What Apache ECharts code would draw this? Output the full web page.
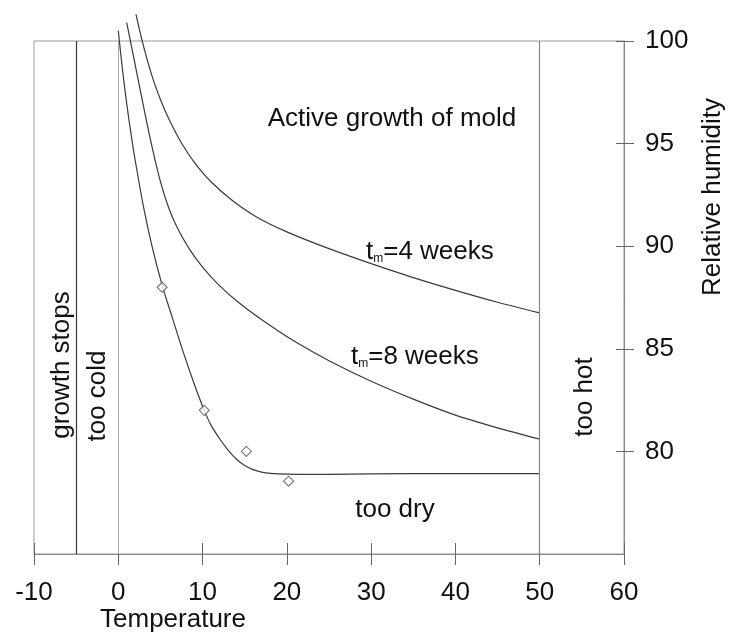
<!DOCTYPE html>
<html>
<head>
<meta charset="utf-8">
<title>Mold growth</title>
<script src="https://cdn.jsdelivr.net/npm/echarts@6/dist/echarts.min.js"></script>
<style>
    html, body { margin: 0; padding: 0; background: #fff; }
    #chart { width: 729px; height: 634px; }
</style>
</head>
<body>
<div id="chart"></div>
<script>
// axes: temperature (x) and relative humidity (y)
const tempTicks = [-10, 0, 10, 20, 30, 40, 50, 60]
const rhTicks = [80, 85, 90, 95, 100]
const rhMin = 75

// vertical limits (temperature)
const growthStops = -5
const tooCold = 0
const tooHot = 50

// curves: [temperature, RH]
const weeks4 = [[2.1, 101.3], [2.9, 99.9], [4, 98.3], [5, 97.15], [6, 96.2], [7.5, 95.03], [9, 94.1],
    [11, 93.14], [13.5, 92.24], [16.5, 91.4], [20, 90.7], [25, 89.88], [30, 89.15], [35, 88.47],
    [40, 87.85], [45, 87.27], [50, 86.75]]
const weeks8 = [[1, 100.9], [2, 98.85], [3, 96.8], [4, 94.85], [5, 93.15], [6, 91.85], [7, 90.9],
    [8.5, 89.82], [10, 88.98], [12, 88.08], [14.5, 87.18], [17.5, 86.28], [21, 85.34], [25, 84.42],
    [30, 83.42], [35, 82.55], [40, 81.77], [45, 81.15], [50, 80.6]]
const dryLimit = [[0, 100.5], [0.5, 98.6], [1, 96.95], [1.5, 95.5], [2, 94.2], [3, 91.9], [4, 90.0],
    [5.2, 88.1], [6.5, 86.4], [7.7, 84.85], [9, 83.3], [10.2, 82.0], [11, 81.28], [12, 80.63],
    [13, 80.08], [14, 79.63], [15, 79.31], [16, 79.11], [17, 78.99], [18, 78.93], [20, 78.89],
    [25, 78.88], [30, 78.9], [40, 78.92], [50, 78.92]]
const measured = [[5.2, 88.0], [10.2, 82.0], [15.2, 80.0], [20.2, 78.55]]

const font = 'Liberation Sans, Arial, sans-serif'
const txt = { fontSize: 26, fontFamily: font, fill: '#111' }

const chart = echarts.init(document.getElementById('chart'))

const xBase = {
    type: 'value',
    min: tempTicks[0],
    max: tempTicks[tempTicks.length - 1],
    interval: tempTicks[1] - tempTicks[0],
    splitLine: { show: false }
}
const yBase = {
    type: 'value',
    min: rhMin,
    max: rhTicks[rhTicks.length - 1],
    interval: rhTicks[1] - rhTicks[0],
    splitLine: { show: false }
}
const curve = (name, data) => ({
    name: name,
    type: 'line',
    data: data,
    smooth: 0.3,
    symbol: 'none',
    clip: false,
    silent: true,
    lineStyle: { color: '#3a3a3a', width: 1.2 },
    z: 3
})

chart.setOption({
    animation: false,
    backgroundColor: '#fff',
    grid: {
        left: 34, right: 105, top: 41, bottom: 80,
        show: true, borderColor: '#999', borderWidth: 1
    },
    xAxis: [
        Object.assign({}, xBase, {
            position: 'bottom',
            axisLine: { show: true, onZero: false, lineStyle: { color: '#888', width: 1 } },
            axisTick: { show: true, inside: true, length: 11, customValues: tempTicks, lineStyle: { color: '#666' } },
            axisLabel: { fontSize: 26, fontFamily: font, color: '#111', margin: 26, customValues: tempTicks }
        }),
        // second copy only for the outward half of the ticks
        Object.assign({}, xBase, {
            position: 'top',
            offset: -513,
            axisLine: { show: false, onZero: false },
            axisTick: { show: true, inside: true, length: 11, customValues: tempTicks, lineStyle: { color: '#666' } },
            axisLabel: { show: false }
        })
    ],
    yAxis: [
        Object.assign({}, yBase, {
            position: 'right',
            axisLine: { show: true, onZero: false, lineStyle: { color: '#888', width: 1 } },
            axisTick: { show: true, inside: true, length: 8, customValues: rhTicks, lineStyle: { color: '#666' } },
            axisLabel: { fontSize: 26, fontFamily: font, color: '#111', margin: 21, padding: [8, 0, 0, 0], customValues: rhTicks }
        }),
        Object.assign({}, yBase, {
            position: 'left',
            offset: -590,
            axisLine: { show: false, onZero: false },
            axisTick: { show: true, inside: true, length: 10, customValues: rhTicks, lineStyle: { color: '#666' } },
            axisLabel: { show: false }
        })
    ],
    series: [
        curve('tm=4 weeks', weeks4),
        curve('tm=8 weeks', weeks8),
        Object.assign(curve('too dry', dryLimit), {
            markLine: {
                silent: true,
                symbol: ['none', 'none'],
                label: { show: false },
                data: [
                    { xAxis: growthStops, lineStyle: { color: '#333', width: 1.2, type: 'solid' } },
                    { xAxis: tooCold, lineStyle: { color: '#aaa', width: 1, type: 'solid' } },
                    { xAxis: tooHot, lineStyle: { color: '#888', width: 1.2, type: 'solid' } }
                ]
            }
        }),
        {
            name: 'measured',
            type: 'scatter',
            data: measured,
            symbol: 'diamond',
            symbolSize: 10,
            silent: true,
            itemStyle: { color: '#fff', borderColor: '#555', borderWidth: 1.1 },
            z: 4
        }
    ],
    graphic: [
        { type: 'text', x: 173, y: 620, style: Object.assign({ text: 'Temperature', align: 'center', verticalAlign: 'middle' }, txt) },
        { type: 'text', x: 713, y: 197, rotation: Math.PI / 2, style: Object.assign({ text: 'Relative humidity', align: 'center', verticalAlign: 'middle' }, txt) },
        { type: 'text', x: 62, y: 365, rotation: Math.PI / 2, style: Object.assign({ text: 'growth stops', align: 'center', verticalAlign: 'middle' }, txt) },
        { type: 'text', x: 98, y: 396, rotation: Math.PI / 2, style: Object.assign({ text: 'too cold', align: 'center', verticalAlign: 'middle' }, txt) },
        { type: 'text', x: 585, y: 397, rotation: Math.PI / 2, style: Object.assign({ text: 'too hot', align: 'center', verticalAlign: 'middle' }, txt) },
        { type: 'text', x: 392, y: 119, style: Object.assign({ text: 'Active growth of mold', align: 'center', verticalAlign: 'middle' }, txt) },
        { type: 'text', x: 395, y: 510, style: Object.assign({ text: 'too dry', align: 'center', verticalAlign: 'middle' }, txt) },
        {
            type: 'text', x: 366, y: 252,
            style: {
                text: '{a|t}{b|m}{a|=4 weeks}', align: 'left', verticalAlign: 'middle',
                rich: { a: txt, b: { fontSize: 12, fontFamily: font, fill: '#111', verticalAlign: 'bottom' } }
            }
        },
        {
            type: 'text', x: 351, y: 357,
            style: {
                text: '{a|t}{b|m}{a|=8 weeks}', align: 'left', verticalAlign: 'middle',
                rich: { a: txt, b: { fontSize: 12, fontFamily: font, fill: '#111', verticalAlign: 'bottom' } }
            }
        }
    ]
})
</script>
</body>
</html>
